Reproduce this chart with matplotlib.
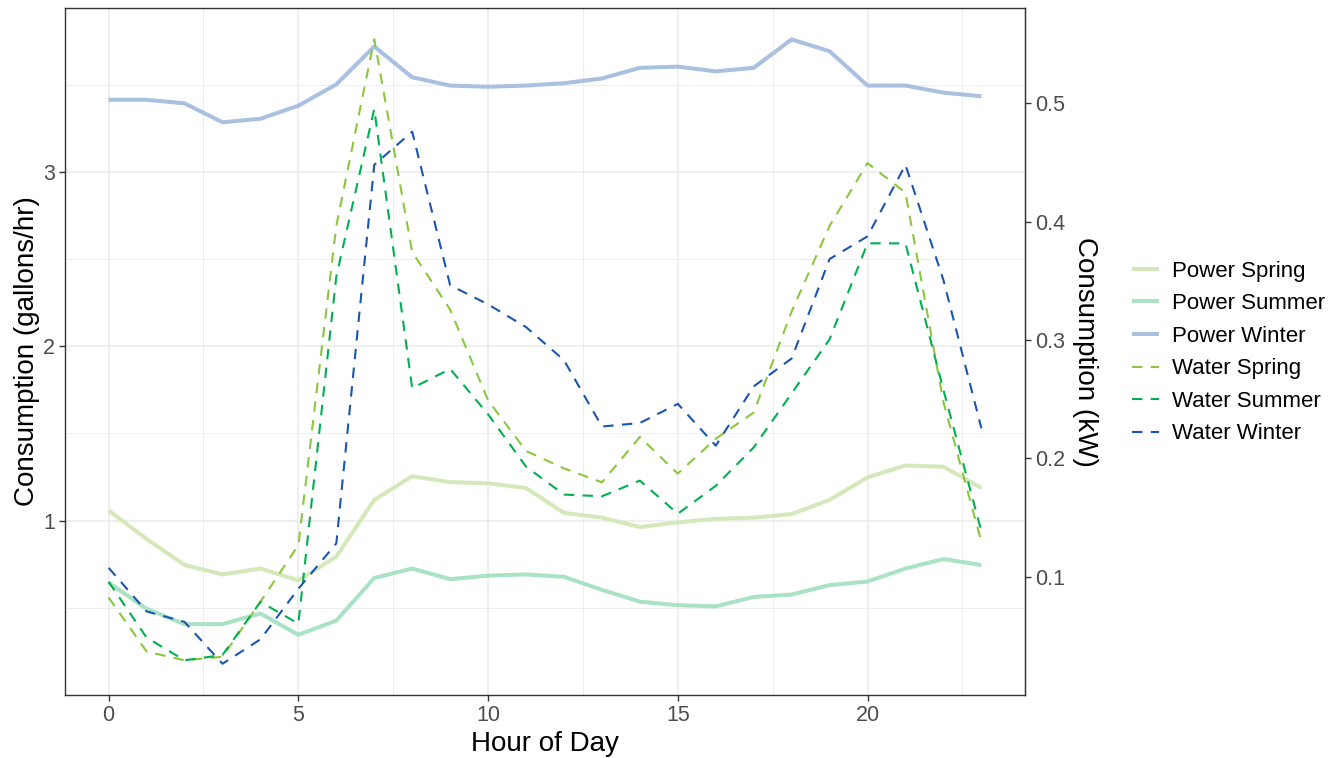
import numpy as np
import matplotlib
matplotlib.use("Agg")
import matplotlib.pyplot as plt

plt.rcParams['font.family'] = ['Liberation Sans', 'DejaVu Sans']

hours = list(range(24))

# power in kW (right axis)
power_spring = [0.156, 0.132, 0.110, 0.102, 0.107, 0.097, 0.117, 0.165, 0.185, 0.180,
                0.179, 0.175, 0.154, 0.150, 0.142, 0.146, 0.149, 0.150, 0.153, 0.165,
                0.184, 0.194, 0.193, 0.175]
power_summer = [0.095, 0.073, 0.060, 0.060, 0.069, 0.051, 0.063, 0.099, 0.107, 0.098,
                0.101, 0.102, 0.100, 0.089, 0.079, 0.076, 0.075, 0.083, 0.085, 0.093,
                0.096, 0.107, 0.115, 0.110]
power_winter = [0.503, 0.503, 0.500, 0.484, 0.487, 0.498, 0.516, 0.548, 0.522, 0.515,
                0.514, 0.515, 0.517, 0.521, 0.530, 0.531, 0.527, 0.530, 0.554, 0.544,
                0.515, 0.515, 0.509, 0.506]

# water in gallons/hr (left axis)
water_spring = [0.56, 0.25, 0.20, 0.22, 0.535, 0.86, 2.69, 3.76, 2.54, 2.21,
                1.69, 1.40, 1.30, 1.22, 1.48, 1.27, 1.47, 1.62, 2.20, 2.69,
                3.05, 2.88, 1.68, 0.88]
water_summer = [0.65, 0.33, 0.20, 0.23, 0.535, 0.41, 2.40, 3.36, 1.76, 1.87,
                1.61, 1.31, 1.15, 1.14, 1.23, 1.04, 1.20, 1.42, 1.73, 2.04,
                2.59, 2.59, 1.75, 0.94]
water_winter = [0.73, 0.48, 0.42, 0.18, 0.32, 0.61, 0.87, 3.04, 3.23, 2.35,
                2.24, 2.11, 1.92, 1.54, 1.56, 1.67, 1.43, 1.77, 1.93, 2.50,
                2.63, 3.04, 2.38, 1.53]

SCALE = 6.785  # gallons/hr per kW on the shared scale

power = [("Power Spring", power_spring, "#d5e8b9"),
         ("Power Summer", power_summer, "#a9e2c5"),
         ("Power Winter", power_winter, "#a9c0e0")]
water = [("Water Spring", water_spring, "#8cc63e"),
         ("Water Summer", water_summer, "#00b050"),
         ("Water Winter", water_winter, "#1b55ae")]

fig = plt.figure(figsize=(13.37, 7.58), dpi=100)
ax = fig.add_axes([65 / 1337, 1 - 695 / 758, 960 / 1337, 687 / 758])

for name, vals, col in power:
    ax.plot(hours, np.array(vals) * SCALE, color=col, lw=2.9, label=name,
            solid_capstyle='butt', zorder=3)
for name, vals, col in water:
    ax.plot(hours, vals, color=col, lw=1.5, dashes=(5, 4), label=name, zorder=4)

# limits with ggplot-like expansion
allv = np.concatenate([np.array(v) for _, v, _ in water] +
                      [np.array(v) * SCALE for _, v, _ in power])
lo, hi = allv.min(), allv.max()
pad = (hi - lo) * 0.05
ax.set_ylim(lo - pad, hi + pad)
ax.set_xlim(-23 * 0.05, 23 * 1.05)

ax.set_xticks([0, 5, 10, 15, 20])
ax.set_xticks([2.5, 7.5, 12.5, 17.5, 22.5], minor=True)
ax.set_yticks([1, 2, 3])
ax.set_yticks([0.5, 1.5, 2.5, 3.5], minor=True)
ax.grid(True, which='major', color='#ebebeb', lw=1.1, zorder=0)
ax.grid(True, which='minor', color='#ebebeb', lw=0.6, zorder=0)
ax.set_axisbelow(True)

for s in ax.spines.values():
    s.set_color('#333333')
    s.set_linewidth(1.0)
ax.tick_params(which='major', length=4, width=1, color='#333333',
               labelsize=15.5, labelcolor='#4d4d4d', pad=3)
ax.tick_params(which='minor', length=0)

ax.set_xlabel("Hour of Day", fontsize=20, labelpad=4)
ax.set_ylabel("Consumption (gallons/hr)", fontsize=20, labelpad=2)

sec = ax.secondary_yaxis('right', functions=(lambda g: g / SCALE, lambda k: k * SCALE))
sec.set_yticks([0.1, 0.2, 0.3, 0.4, 0.5])
sec.tick_params(length=4, width=1, color='#333333', labelsize=15.5,
                labelcolor='#4d4d4d', pad=3)
sec.spines['right'].set_color('#333333')
sec.set_ylabel("Consumption (kW)", fontsize=20, rotation=-90, labelpad=24)

leg = fig.legend(loc='center left', bbox_to_anchor=(1132 / 1337, 1 - 352.5 / 758),
                 frameon=False, fontsize=16, handlelength=1.2,
                 labelspacing=0.52, handletextpad=0.6, borderpad=0,
                 borderaxespad=0)

fig.savefig("out.png", dpi=100)
